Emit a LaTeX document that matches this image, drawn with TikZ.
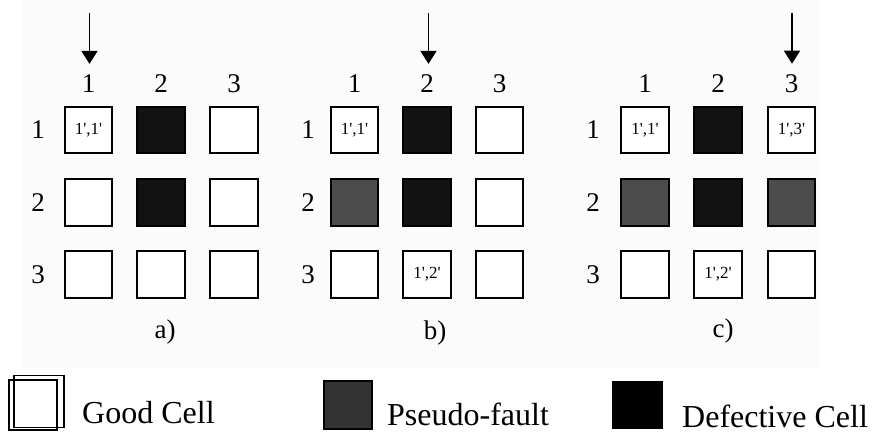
\documentclass[tikz,border=0pt]{standalone}
\usepackage{fontspec}
\setmainfont{Liberation Serif}
\usetikzlibrary{arrows.meta}
\newcommand{\qq}{\textquotesingle}
\begin{document}
\begin{tikzpicture}[x=1pt,y=-1pt,
  cell/.style={draw, line width=1.7pt, minimum width=47.5pt, minimum height=46.5pt,
               inner sep=0pt, font=\fontsize{17}{17}\selectfont},
  good/.style={cell, fill=white},
  defect/.style={cell, fill=black!93},
  pseudo/.style={cell, fill=black!70},
  idx/.style={inner sep=0pt, font=\fontsize{27}{27}\selectfont},
  caption/.style={anchor=base, inner sep=0pt, font=\fontsize{27}{27}\selectfont},
  legendtext/.style={anchor=base west, inner sep=0pt, font=\fontsize{32}{32}\selectfont},
  legendbox/.style={draw, line width=1.7pt, inner sep=0pt, minimum width=50pt, minimum height=50pt},
  pointer/.style={line width=1.6pt, shorten >=11pt, -{Triangle[width=16pt,length=13pt]}}
]
\useasboundingbox (0,0) rectangle (876,433);
% faint tint of the upper panel area
\fill[black!1.5] (22,0) rectangle (820,368);

% ---------------- panel a ----------------
\node[idx] (ca1) at (88.5,84) {1};
\node[idx] (ca2) at (161,84) {2};
\node[idx] (ca3) at (234,84) {3};
\node[idx] (ra1) at (38,130) {1};
\node[idx] (ra2) at (38,202.5) {2};
\node[idx] (ra3) at (38,274.5) {3};
\node[good]   (a11) at (88.5,130) {1\qq,1\qq};
\node[defect] (a12) at (161,130) {};
\node[good]   (a13) at (234,130) {};
\node[good]   (a21) at (88.5,202.5) {};
\node[defect] (a22) at (161,202.5) {};
\node[good]   (a23) at (234,202.5) {};
\node[good]   (a31) at (88.5,274.5) {};
\node[good]   (a32) at (161,274.5) {};
\node[good]   (a33) at (234,274.5) {};
\node[caption] (capa) at (165,338) {a)};
\coordinate (pa) at (89.5,13);
\draw[pointer] (pa) -- (pa |- ca1.north);

% ---------------- panel b ----------------
\node[idx] (cb1) at (354.5,84) {1};
\node[idx] (cb2) at (427,84) {2};
\node[idx] (cb3) at (499.5,84) {3};
\node[idx] (rb1) at (308,130) {1};
\node[idx] (rb2) at (308,202.5) {2};
\node[idx] (rb3) at (308,274.5) {3};
\node[good]   (b11) at (354.5,130) {1\qq,1\qq};
\node[defect] (b12) at (427,130) {};
\node[good]   (b13) at (499.5,130) {};
\node[pseudo] (b21) at (354.5,202.5) {};
\node[defect] (b22) at (427,202.5) {};
\node[good]   (b23) at (499.5,202.5) {};
\node[good]   (b31) at (354.5,274.5) {};
\node[good]   (b32) at (427,274.5) {1\qq,2\qq};
\node[good]   (b33) at (499.5,274.5) {};
\node[caption] (capb) at (435,339) {b)};
\coordinate (pb) at (428.5,13);
\draw[pointer] (pb) -- (pb |- cb2.north);

% ---------------- panel c ----------------
\node[idx] (cc1) at (645,84) {1};
\node[idx] (cc2) at (718,84) {2};
\node[idx] (cc3) at (791.5,84) {3};
\node[idx] (rc1) at (593,130) {1};
\node[idx] (rc2) at (593,202.5) {2};
\node[idx] (rc3) at (593,274.5) {3};
\node[good]   (c11) at (645,130) {1\qq,1\qq};
\node[defect] (c12) at (718,130) {};
\node[good]   (c13) at (791.5,130) {1\qq,3\qq};
\node[pseudo] (c21) at (645,202.5) {};
\node[defect] (c22) at (718,202.5) {};
\node[pseudo] (c23) at (791.5,202.5) {};
\node[good]   (c31) at (645,274.5) {};
\node[good]   (c32) at (718,274.5) {1\qq,2\qq};
\node[good]   (c33) at (791.5,274.5) {};
\node[caption] (capc) at (723,337) {c)};
\coordinate (pc) at (792,13);
\draw[pointer] (pc) -- (pc |- cc3.north);

% ---------------- legend ----------------
\node[legendbox, minimum width=50pt, minimum height=52pt] (lgood-back) at (39,401.5) {};
\node[legendbox, minimum width=48pt, minimum height=50pt] (lgood) at (33,405) {};
\node[legendtext] (tgood) at (82,423) {Good Cell};
\node[legendbox, fill=black!80, minimum width=48pt, minimum height=48pt] (lpseudo) at (348,405) {};
\node[legendtext] (tpseudo) at (387,425) {Pseudo-fault};
\node[legendbox, fill=black, minimum width=49pt, minimum height=46pt] (ldefect) at (637.5,405) {};
\node[legendtext] (tdefect) at (682,427) {Defective Cell};
\end{tikzpicture}
\end{document}
